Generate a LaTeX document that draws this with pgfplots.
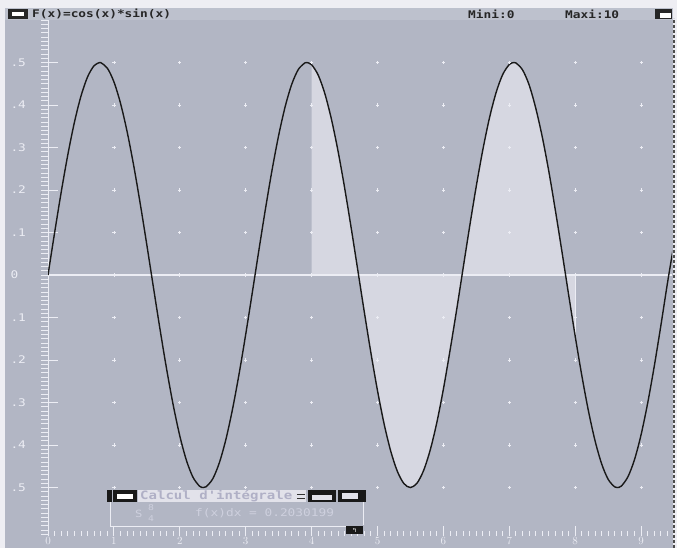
\documentclass[border=0pt]{standalone}
\usepackage{pgfplots}
\pgfplotsset{compat=1.18}
\usepackage{fontspec}
\newfontfamily\pix[FakeStretch=1.22]{DejaVu Sans Mono}
\definecolor{bg}{RGB}{178,182,196}
\definecolor{shade}{RGB}{214,215,225}
\definecolor{page}{RGB}{238,238,243}
\definecolor{wt}{RGB}{236,237,244}
\definecolor{dlg}{RGB}{226,226,234}
\definecolor{dlgtxt}{RGB}{176,176,198}
\definecolor{cnt}{RGB}{206,208,222}
\pgfplotsset{geom/.style={
  at={(48pt,12pt)}, anchor=south west, scale only axis,
  width=624pt, height=516pt,
  xmin=0, xmax=9.469, ymin=-0.614, ymax=0.6,
  axis lines=left, axis line style={-},
  x axis line style={draw=none},
  y axis line style={wt, line width=1pt},
  tick style={wt, line width=0.9pt},
}}
\begin{document}
\begin{tikzpicture}
\path[use as bounding box] (0pt,0pt) rectangle (677pt,548pt);
\fill[page] (0pt,0pt) rectangle (677pt,548pt);
\fill[bg] (5pt,0pt) rectangle (673pt,540pt);
\fill[bg!85!white] (5pt,528pt) rectangle (673pt,540pt);
\draw[black!70, dash pattern=on 3pt off 2pt, line width=1.5pt] (674pt,0pt) -- (674pt,530pt);
% title bar
\fill[black!85] (8pt,529pt) rectangle (28pt,539pt);
\fill[white] (12pt,532pt) rectangle (24pt,536pt);
\node[anchor=west, inner sep=0pt, text=black!85] at (32pt,534pt) {\pix\bfseries\fontsize{10.5}{11}\selectfont F(x)=cos(x)*sin(x)};
\node[anchor=west, inner sep=0pt, text=black!85] at (468pt,534pt) {\pix\bfseries\fontsize{10.5}{11}\selectfont Mini:0};
\node[anchor=west, inner sep=0pt, text=black!85] at (565pt,534pt) {\pix\bfseries\fontsize{10.5}{11}\selectfont Maxi:10};
\fill[black!85] (655pt,529pt) rectangle (672pt,539pt);
\fill[white] (660pt,530pt) rectangle (671pt,535pt);
% fine y ticks (outside, every 0.01)
\begin{axis}[geom,
  tick align=outside, major tick length=7pt,
  xtick=\empty,
  ytick={-0.61,-0.6,...,0.6},
  yticklabel=\empty,
]
\end{axis}
\begin{axis}[geom,
  tick align=inside,
  major tick length=10pt, minor tick length=5pt,
  xtick={0,1,2,3,4,5,6,7,8,9},
  minor xtick={0,0.1,...,9.45},
  ytick={-0.5,-0.4,-0.3,-0.2,-0.1,0,0.1,0.2,0.3,0.4,0.5},
  yticklabels={.5,.4,.3,.2,.1,0,.1,.2,.3,.4,.5},
  ticklabel style={text=wt, font=\pix\fontsize{10.5}{11}\selectfont},
  yticklabel style={anchor=west, xshift=-41pt},
  xticklabel style={yshift=2pt},
  clip=true,
]
\addplot[draw=none, fill=shade] coordinates {
(4,0)(4.0,0.4947)(4.1,0.4704)(4.2,0.4273)(4.3,0.3672)(4.4,0.2925)(4.5,0.2061)(4.6,0.1114)(4.7,0.0124)(4.8,-0.0872)(4.9,-0.1832)(5.0,-0.2720)(5.1,-0.3501)(5.2,-0.4139)(5.3,-0.4614)(5.4,-0.4905)(5.5,-0.5000)(5.6,-0.4896)(5.7,-0.4597)(5.8,-0.4116)(5.9,-0.3472)(6.0,-0.2683)(6.1,-0.1780)(6.2,-0.0828)(6.3,0.0168)(6.4,0.1158)(6.5,0.2101)(6.6,0.2960)(6.7,0.3702)(6.8,0.4295)(6.9,0.4718)(7.0,0.4953)(7.0686,0.5)(7.1,0.4990)(7.2,0.4828)(7.3,0.4477)(7.4,0.3935)(7.5,0.3251)(7.6,0.2436)(7.7,0.1512)(7.8,0.0539)(7.9,-0.0460)(8.0,-0.1440)(8,0)
} -- cycle;
\addplot[wt, line width=1.2pt] coordinates {(0,0)(9.469,0)};
\addplot[wt, line width=0.8pt] coordinates {(8,0)(8,-0.144)};
\pgfplotsinvokeforeach{1,...,9}{
\addplot[only marks, mark=+, mark size=1.6pt, wt, mark options={line width=0.8pt}] coordinates {(#1,-0.5)(#1,-0.4)(#1,-0.3)(#1,-0.2)(#1,-0.1)(#1,0)(#1,0.1)(#1,0.2)(#1,0.3)(#1,0.4)(#1,0.5)};
}
\addplot[black!90, line width=1.4pt, smooth] coordinates {
(0,0)(0.1,0.0993)(0.2,0.1947)(0.3,0.2823)(0.4,0.3587)(0.5,0.4207)(0.6,0.4660)(0.7,0.4927)(0.7854,0.5)(0.8,0.4998)(0.9,0.4869)(1.0,0.4546)(1.1,0.4043)(1.2,0.3377)(1.3,0.2578)(1.4,0.1675)(1.5,0.0706)(1.6,-0.0292)(1.7,-0.1278)(1.8,-0.2213)(1.9,-0.3059)(2.0,-0.3784)(2.1,-0.4358)(2.2,-0.4758)(2.3,-0.4968)(2.3562,-0.5)(2.4,-0.4981)(2.5,-0.4795)(2.6,-0.4417)(2.7,-0.3864)(2.8,-0.3156)(2.9,-0.2323)(3.0,-0.1397)(3.1,-0.0415)(3.2,0.0583)(3.3,0.1558)(3.4,0.2471)(3.5,0.3285)(3.6,0.3968)(3.7,0.4494)(3.8,0.4840)(3.9,0.4993)(3.927,0.5)(4.0,0.4947)(4.1,0.4704)(4.2,0.4273)(4.3,0.3672)(4.4,0.2925)(4.5,0.2061)(4.6,0.1114)(4.7,0.0124)(4.8,-0.0872)(4.9,-0.1832)(5.0,-0.2720)(5.1,-0.3501)(5.2,-0.4139)(5.3,-0.4614)(5.4,-0.4905)(5.5,-0.5000)(5.6,-0.4896)(5.7,-0.4597)(5.8,-0.4116)(5.9,-0.3472)(6.0,-0.2683)(6.1,-0.1780)(6.2,-0.0828)(6.3,0.0168)(6.4,0.1158)(6.5,0.2101)(6.6,0.2960)(6.7,0.3702)(6.8,0.4295)(6.9,0.4718)(7.0,0.4953)(7.0686,0.5)(7.1,0.4990)(7.2,0.4828)(7.3,0.4477)(7.4,0.3935)(7.5,0.3251)(7.6,0.2436)(7.7,0.1512)(7.8,0.0539)(7.9,-0.0460)(8.0,-0.1440)(8.1,-0.2362)(8.2,-0.3191)(8.3,-0.3892)(8.4,-0.4437)(8.5,-0.4807)(8.6,-0.4986)(8.6394,-0.5)(8.7,-0.4965)(8.8,-0.4747)(8.9,-0.4343)(9.0,-0.3755)(9.1,-0.3011)(9.2,-0.2142)(9.3,-0.1188)(9.4,-0.0189)(9.5,0.0749)
};
\end{axis}
% integral dialog
\fill[bg] (110pt,21pt) rectangle (365pt,46pt);
\draw[wt, line width=1pt] (110pt,46pt) -- (110pt,21pt) -- (347pt,21pt);
\draw[wt, line width=1pt] (363pt,46pt) -- (363pt,23pt);
\fill[black!90] (346pt,14pt) rectangle (363pt,22pt);
\node[text=white, inner sep=0pt] at (354.5pt,18pt) {\pix\fontsize{6}{6}\selectfont ↰};
\fill[black!90] (107pt,46pt) rectangle (112pt,58pt);
\fill[black!90] (113pt,46pt) rectangle (137pt,58pt);
\fill[white] (117pt,49pt) rectangle (133pt,54pt);
\fill[dlg] (138pt,46pt) rectangle (306pt,58pt);
\node[anchor=west, inner sep=0pt, text=dlgtxt] at (140pt,52pt) {\pix\bfseries\fontsize{11.5}{12}\selectfont Calcul d'intégrale};
\draw[black!80, line width=0.8pt] (297pt,50pt) -- (305pt,50pt) (297pt,54pt) -- (305pt,54pt);
\fill[black!90] (308pt,46pt) rectangle (336pt,58pt);
\fill[dlg] (312pt,48pt) rectangle (332pt,53pt);
\fill[black!90] (338pt,46pt) rectangle (362pt,58pt);
\fill[dlg] (342pt,49pt) rectangle (358pt,55pt);
\fill[black!90] (362pt,46pt) rectangle (366pt,58pt);
\node[anchor=west, inner sep=0pt, text=cnt] at (135pt,34pt) {\pix\fontsize{10}{10}\selectfont S};
\node[anchor=west, inner sep=0pt, text=cnt] at (148pt,40pt) {\pix\fontsize{8}{8}\selectfont 8};
\node[anchor=west, inner sep=0pt, text=cnt] at (148pt,29pt) {\pix\fontsize{8}{8}\selectfont 4};
\node[anchor=west, inner sep=0pt, text=cnt] at (195pt,35pt) {\pix\fontsize{10.5}{10}\selectfont f(x)dx = 0.2030199};
\end{tikzpicture}
\end{document}
